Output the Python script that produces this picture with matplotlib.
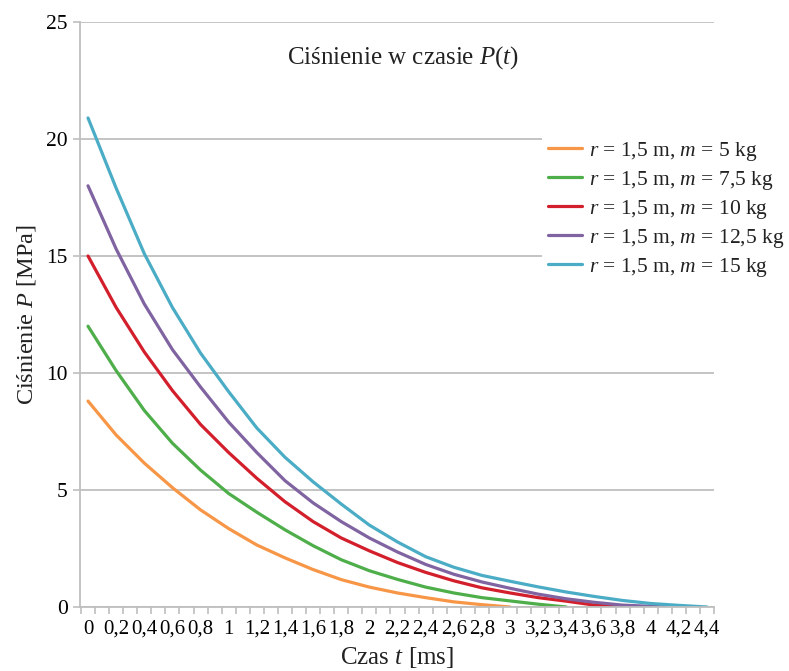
import matplotlib
matplotlib.use("Agg")
import matplotlib.pyplot as plt
from matplotlib.ticker import FixedLocator, FuncFormatter

plt.rcParams['font.family'] = ['Liberation Serif', 'DejaVu Serif']
plt.rcParams['mathtext.fontset'] = 'custom'
plt.rcParams['mathtext.rm'] = 'Liberation Serif'
plt.rcParams['mathtext.it'] = 'Liberation Serif:italic'

# ---- data (time in ms, pressure in MPa) ----
t_m5 = [0, 0.2, 0.4, 0.6, 0.8, 1.0, 1.2, 1.4, 1.6, 1.8, 2.0, 2.2, 2.4, 2.6, 2.8, 3.0]
p_m5 = [8.8, 7.35, 6.15, 5.1, 4.15, 3.35, 2.65, 2.1, 1.6, 1.17, 0.85, 0.6, 0.4, 0.22, 0.1, 0.0]

t_m75 = [0, 0.2, 0.4, 0.6, 0.8, 1.0, 1.2, 1.4, 1.6, 1.8, 2.0, 2.2, 2.4, 2.6, 2.8, 3.0, 3.2, 3.4]
p_m75 = [12.0, 10.1, 8.4, 7.0, 5.85, 4.85, 4.05, 3.3, 2.62, 2.02, 1.55, 1.18, 0.85, 0.6, 0.4, 0.26, 0.12, 0.0]

t_m10 = [0, 0.2, 0.4, 0.6, 0.8, 1.0, 1.2, 1.4, 1.6, 1.8, 2.0, 2.2, 2.4, 2.6, 2.8, 3.0, 3.2, 3.4, 3.6, 3.8]
p_m10 = [15.0, 12.8, 10.9, 9.25, 7.8, 6.6, 5.5, 4.5, 3.65, 2.95, 2.4, 1.9, 1.48, 1.12, 0.82, 0.6, 0.4, 0.25, 0.08, 0.0]

t_m125 = [0, 0.2, 0.4, 0.6, 0.8, 1.0, 1.2, 1.4, 1.6, 1.8, 2.0, 2.2, 2.4, 2.6, 2.8, 3.0, 3.2, 3.4, 3.6, 3.8, 4.0, 4.1]
p_m125 = [18.0, 15.3, 12.95, 11.0, 9.4, 7.9, 6.6, 5.4, 4.45, 3.65, 2.95, 2.35, 1.82, 1.4, 1.07, 0.8, 0.55, 0.35, 0.2, 0.08, 0.03, 0.0]

t_m15 = [0, 0.2, 0.4, 0.6, 0.8, 1.0, 1.2, 1.4, 1.6, 1.8, 2.0, 2.2, 2.4, 2.6, 2.8, 3.0, 3.2, 3.4, 3.6, 3.8, 4.0, 4.2, 4.4]
p_m15 = [20.9, 17.9, 15.1, 12.8, 10.85, 9.2, 7.65, 6.4, 5.35, 4.4, 3.5, 2.78, 2.15, 1.7, 1.35, 1.1, 0.86, 0.64, 0.45, 0.28, 0.15, 0.07, 0.0]

labels = [r'$r$ = 1,5 m, $m$ = 5 kg',
          r'$r$ = 1,5 m, $m$ = 7,5 kg',
          r'$r$ = 1,5 m, $m$ = 10 kg',
          r'$r$ = 1,5 m, $m$ = 12,5 kg',
          r'$r$ = 1,5 m, $m$ = 15 kg']
colors = ['#F79646', '#4EAE4A', '#D21F2B', '#8064A2', '#4BACC6']

x_ticks = [round(0.2 * i, 1) for i in range(23)]
y_ticks = [0, 5, 10, 15, 20, 25]

fig = plt.figure(figsize=(7.89, 6.71), dpi=100)
ax = fig.add_axes([80 / 789, 1 - 607 / 671, (714 - 80) / 789, (607 - 22) / 671])

series = [(t_m5, p_m5), (t_m75, p_m75), (t_m10, p_m10), (t_m125, p_m125), (t_m15, p_m15)]
for (tt, pp), lab, col in zip(series, labels, colors):
    ax.plot(tt, pp, color=col, lw=2.3, label=lab, solid_capstyle='round', solid_joinstyle='round')

ax.set_xlim(-0.057, 4.45)
ax.set_ylim(0, 25)

grid_col = '#BFBFBF'
ax.set_yticks(y_ticks)
ax.yaxis.grid(True, color=grid_col, lw=1.3)
ax.set_axisbelow(True)
ax.tick_params(axis='y', length=5, width=1.2, color=grid_col, labelsize=15.5, pad=4)

ax.xaxis.set_major_locator(FixedLocator(x_ticks))
ax.xaxis.set_major_formatter(FuncFormatter(lambda v, p: ('%g' % round(v, 1)).replace('.', ',')))
ax.xaxis.set_minor_locator(FixedLocator([round(-0.05 + 0.1 * k, 2) for k in range(46)]))
ax.tick_params(axis='x', which='major', length=0, labelsize=15, pad=9)
ax.tick_params(axis='x', which='minor', length=5, width=1.2, color=grid_col)

for s in ['top', 'right']:
    ax.spines[s].set_visible(False)
for s in ['left', 'bottom']:
    ax.spines[s].set_color(grid_col)
    ax.spines[s].set_linewidth(1.3)

ax.text(0.51, 0.94, r'Ciśnienie w czasie $P$($t$)', transform=ax.transAxes,
        ha='center', va='center', fontsize=18, color='#222222')

ax.set_xlabel(r'Czas $t$ [ms]', fontsize=18, color='#222222', labelpad=5)
ax.set_ylabel(r'Ciśnienie $P$ [MPa]', fontsize=17.5, color='#222222', labelpad=6)

leg = ax.legend(loc='upper left', bbox_to_anchor=(0.728, 0.81), frameon=True,
                fontsize=15.5, handlelength=1.6, handletextpad=0.3, labelspacing=0.28,
                borderpad=0.3, borderaxespad=0)
leg.get_frame().set_facecolor('white')
leg.get_frame().set_edgecolor('none')
leg.get_frame().set_alpha(1)
for text in leg.get_texts():
    text.set_color('#222222')

fig.savefig('out.png', dpi=100, facecolor='white')
